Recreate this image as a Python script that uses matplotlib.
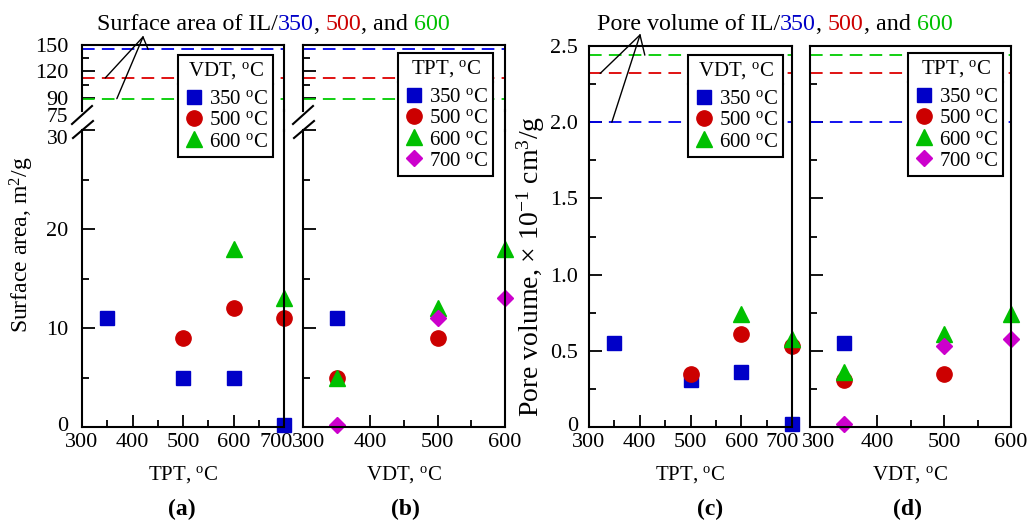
import matplotlib.pyplot as plt
from matplotlib.lines import Line2D
from matplotlib import transforms

plt.rcParams['font.family'] = 'Liberation Serif'
plt.rcParams['mathtext.fontset'] = 'custom'
plt.rcParams['mathtext.rm'] = 'Liberation Serif'
plt.rcParams['mathtext.it'] = 'Liberation Serif:italic'

# data
tpt = [350, 500, 600, 700]
vdt = [350, 500, 600]

# surface area, m2/g
sa_vdt350 = [11, 5, 5, 0.2]          # at TPT 350, 500, 600, 700
sa_vdt500 = [9, 12, 11]              # at TPT 500, 600, 700
sa_vdt600 = [18, 13]                 # at TPT 600, 700
sa_il = [145, 112.5, 89]             # IL/350, IL/500, IL/600

# pore volume, x10^-1 cm3/g
pv_vdt350 = [0.55, 0.31, 0.36, 0.02]
pv_vdt500 = [0.35, 0.61, 0.53]
pv_vdt600 = [0.74, 0.58]
pv_il = [2.0, 2.32, 2.44]

deg = '$^{\\rm o}$C'
blue, red, green, magenta = '#0000c8', '#cc0000', '#00c000', '#cc00cc'
line_cols = ['#0000ee', '#dd0000', '#00cc00']
W, H = 1032, 522
fs = 16

fig = plt.figure(figsize=(W / 100, H / 100), dpi=100)


def box(l, r, top, bot):
    return [l / W, 1 - bot / H, (r - l) / W, (bot - top) / H]


def px(x, y):
    return (x / W, 1 - y / H)


def style(ax, labels=True, pad=10):
    for s in ax.spines.values():
        s.set_linewidth(1.5)
    ax.tick_params(which='both', direction='in', top=False, right=False,
                   width=1.3, labelsize=fs, pad=4)
    ax.tick_params(axis='y', which='both', pad=pad, labelleft=labels)
    ax.tick_params(which='major', length=9)
    ax.tick_params(which='minor', length=5)


def fig_line(p1, p2, lw=1.5):
    a, b = px(*p1), px(*p2)
    fig.add_artist(Line2D([a[0], b[0]], [a[1], b[1]], color='black', lw=lw,
                          transform=fig.transFigure))


def legend(handles, labels, title, right, top):
    leg = fig.legend(handles, labels, title=title, loc='upper right',
                     bbox_to_anchor=px(right, top), frameon=True, fancybox=False,
                     edgecolor='black', framealpha=1, fontsize=15, title_fontsize=15,
                     borderpad=0.25, labelspacing=0.08, handletextpad=0.2,
                     handlelength=1.0, borderaxespad=0)
    leg.get_frame().set_linewidth(1.5)
    leg._legend_box.sep = 6
    return leg


def nudge(lab, dx, dy=0):
    lab.set_transform(lab.get_transform() +
                      transforms.ScaledTranslation(dx / 100, dy / 100, fig.dpi_scale_trans))


def sq(c):
    return Line2D([], [], ls='none', marker='s', ms=10.5, color=c)


def ci(c):
    return Line2D([], [], ls='none', marker='o', ms=11, color=c)


def tr(c):
    return Line2D([], [], ls='none', marker='^', ms=12, color=c)


def di(c):
    return Line2D([], [], ls='none', marker='D', ms=8.5, color=c)


mk = dict(ls='none', clip_on=False)

# ---- (a) and (b): broken axis
panels = []
for l, r in [(82, 284), (303, 505)]:
    top = fig.add_axes(box(l, r, 45, 111))
    low = fig.add_axes(box(l, r, 130, 427))
    top.spines['bottom'].set_visible(False)
    low.spines['top'].set_visible(False)
    top.set_ylim(75, 150)
    top.set_yticks([90, 120, 150])
    top.set_yticks([105, 135], minor=True)
    top.set_xticks([])
    low.set_ylim(0, 30)
    low.set_yticks([0, 10, 20, 30])
    low.set_yticks([5, 15, 25], minor=True)
    fig_line((r, 110), (r, 131))
    fig_line((l - 10, 124), (l + 10, 106))
    fig_line((l - 9, 138), (l + 11, 121))
    panels.append((top, low))

(a_top, a_low), (b_top, b_low) = panels
for ax in (a_top, a_low):
    style(ax, True, 10)
for ax in (b_top, b_low):
    style(ax, False)
a_low.set_yticklabels(['0', '10', '20', ''])
fig.text(*px(68, 118), '75', ha='right', va='center', fontsize=15.5)
fig.text(*px(68, 140), '30', ha='right', va='center', fontsize=15.5)

for ax, xmax in [(a_top, 700), (a_low, 700), (b_top, 600), (b_low, 600)]:
    ax.set_xlim(300, xmax)
for ax in (a_top, b_top):
    for v, c in zip(sa_il, line_cols):
        ax.axhline(v, color=c, lw=1.3, dashes=(7, 4))

a_low.set_xticks([300, 400, 500, 600, 700])
a_low.set_xticks([350, 450, 550, 650], minor=True)
b_low.set_xticks([300, 400, 500, 600])
b_low.set_xticks([350, 450, 550], minor=True)

# (a): x = TPT, series = VDT
a_low.plot(tpt, sa_vdt350, marker='s', ms=10.5, color=blue, **mk)
a_low.plot(tpt[1:], sa_vdt500, marker='o', ms=11, color=red, **mk)
a_low.plot(tpt[2:], sa_vdt600, marker='^', ms=12, color=green, **mk)

# (b): x = VDT, series = TPT
sa_tpt350 = [sa_vdt350[0]]
sa_tpt500 = [sa_vdt350[1], sa_vdt500[0]]
sa_tpt600 = [sa_vdt350[2], sa_vdt500[1], sa_vdt600[0]]
sa_tpt700 = [sa_vdt350[3], sa_vdt500[2], sa_vdt600[1]]
b_low.plot(vdt[:1], sa_tpt350, marker='s', ms=10.5, color=blue, **mk)
b_low.plot(vdt[:2], sa_tpt500, marker='o', ms=11, color=red, **mk)
b_low.plot(vdt, sa_tpt600, marker='^', ms=12, color=green, **mk)
b_low.plot(vdt, sa_tpt700, marker='D', ms=8.5, color=magenta, **mk)

# ---- (c) and (d)
ax_c = fig.add_axes(box(589, 792, 46, 427))
ax_d = fig.add_axes(box(810, 1011, 46, 427))
style(ax_c, True, 8)
style(ax_d, False)
for ax in (ax_c, ax_d):
    ax.set_ylim(0, 2.5)
    ax.set_yticks([0, 0.5, 1.0, 1.5, 2.0, 2.5])
    ax.set_yticks([0.25, 0.75, 1.25, 1.75, 2.25], minor=True)
    for v, c in zip(pv_il, line_cols):
        ax.axhline(v, color=c, lw=1.3, dashes=(7, 4))
ax_c.set_yticklabels(['0', '0.5', '1.0', '1.5', '2.0', '2.5'])
ax_c.set_xlim(300, 700)
ax_c.set_xticks([300, 400, 500, 600, 700])
ax_c.set_xticks([350, 450, 550, 650], minor=True)
ax_d.set_xlim(300, 600)
ax_d.set_xticks([300, 400, 500, 600])
ax_d.set_xticks([350, 450, 550], minor=True)

ax_c.plot(tpt, pv_vdt350, marker='s', ms=10.5, color=blue, **mk)
ax_c.plot(tpt[1:], pv_vdt500, marker='o', ms=11, color=red, **mk)
ax_c.plot(tpt[2:], pv_vdt600, marker='^', ms=12, color=green, **mk)

pv_tpt350 = [pv_vdt350[0]]
pv_tpt500 = [pv_vdt350[1], pv_vdt500[0]]
pv_tpt600 = [pv_vdt350[2], pv_vdt500[1], pv_vdt600[0]]
pv_tpt700 = [pv_vdt350[3], pv_vdt500[2], pv_vdt600[1]]
ax_d.plot(vdt[:1], pv_tpt350, marker='s', ms=10.5, color=blue, **mk)
ax_d.plot(vdt[:2], pv_tpt500, marker='o', ms=11, color=red, **mk)
ax_d.plot(vdt, pv_tpt600, marker='^', ms=12, color=green, **mk)
ax_d.plot(vdt, pv_tpt700, marker='D', ms=8.5, color=magenta, **mk)

# crowded tick labels where panels meet
nudge(a_low.get_xticklabels()[4], -8)
nudge(b_low.get_xticklabels()[0], 6)
nudge(ax_c.get_xticklabels()[4], -10)
nudge(ax_d.get_xticklabels()[0], 9)
nudge(ax_c.get_yticklabels()[0], 0, 3)
nudge(a_low.get_yticklabels()[0], 0, 3)

# axis labels
for ax, lab in [(a_low, 'TPT, '), (b_low, 'VDT, '), (ax_c, 'TPT, '), (ax_d, 'VDT, ')]:
    ax.set_xlabel(lab + deg, fontsize=15, labelpad=9)
fig.text(*px(22, 245), 'Surface area, m$^2$/g', rotation=90, ha='center',
         va='center', fontsize=17)
fig.text(*px(531, 266), 'Pore volume, × 10$^{-1}$ cm$^3$/g', rotation=90,
         ha='center', va='center', fontsize=20)
for x, lab in [(182, '(a)'), (405, '(b)'), (710, '(c)'), (908, '(d)')]:
    fig.text(*px(x, 509), lab, ha='center', va='center', fontsize=17,
             fontweight='bold')

# legends
vdt_labels = ['350 ' + deg, '500 ' + deg, '600 ' + deg]
tpt_labels = vdt_labels + ['700 ' + deg]
legs = [
    legend([sq(blue), ci(red), tr(green)], vdt_labels, 'VDT, ' + deg, 273, 55),
    legend([sq(blue), ci(red), tr(green), di(magenta)], tpt_labels, 'TPT, ' + deg, 493, 53),
    legend([sq(blue), ci(red), tr(green)], vdt_labels, 'VDT, ' + deg, 783, 55),
    legend([sq(blue), ci(red), tr(green), di(magenta)], tpt_labels, 'TPT, ' + deg, 1003, 53),
]

# annotation leader lines
arrow = dict(arrowstyle='-', lw=1, color='black', shrinkA=0, shrinkB=0)
for xd, yd in zip([431, 346, 369], sa_il):
    a_top.annotate('', xy=(xd, yd), xytext=px(143, 37),
                   textcoords='figure fraction', arrowprops=arrow)
for xd, yd in zip([345, 322, 410], pv_il):
    ax_c.annotate('', xy=(xd, yd), xytext=px(640, 35),
                  textcoords='figure fraction', arrowprops=arrow)

# multi-coloured headings
fig.canvas.draw()
renderer = fig.canvas.get_renderer()


def colour_text(x, y, parts):
    t = transforms.offset_copy(fig.transFigure, fig=fig, x=0, y=0, units='dots')
    for s, c in parts:
        txt = fig.text(x, y, s, color=c, transform=t, fontsize=17.3, va='baseline')
        txt.draw(renderer)
        ex = txt.get_window_extent(renderer)
        t = transforms.offset_copy(txt.get_transform(), fig=fig, x=ex.width, units='dots')


tail = [('350', blue), (', ', 'black'), ('500', red), (', and ', 'black'), ('600', green)]
colour_text(*px(97, 30), [('Surface area of IL/', 'black')] + tail)
colour_text(*px(597, 30), [('Pore volume of IL/', 'black')] + tail)

# separator line under each legend title
for leg in legs:
    fb = leg.get_window_extent(renderer)
    tb = leg.get_title().get_window_extent(renderer)
    y = tb.y0 - 3
    fig.add_artist(Line2D([fb.x0 / W, fb.x1 / W], [y / H, y / H], color='black',
                          lw=1.5, transform=fig.transFigure))

fig.savefig('out.png', dpi=100)
